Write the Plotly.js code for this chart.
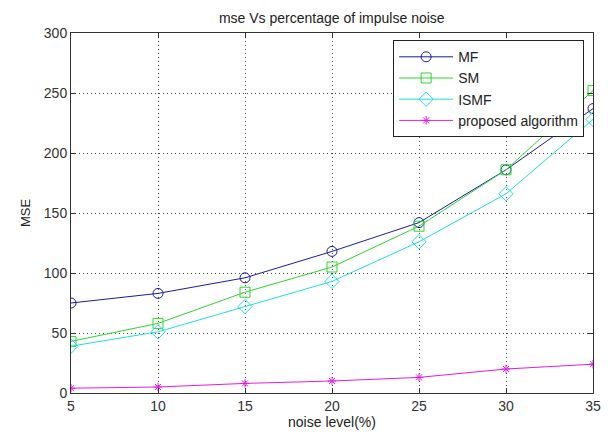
<!DOCTYPE html>
<html>
<head>
<meta charset="utf-8">
<script src="https://cdn.plot.ly/plotly-3.0.1.min.js"></script>
<style>html,body{margin:0;padding:0;background:#fff;}#chart{width:611px;height:432px;}</style>
</head>
<body>
<div id="chart"></div>
<script>
var noiseLevels = [5, 10, 15, 20, 25, 30, 35];
var mfValues = [75, 83, 96, 118, 142, 186, 237];
var smValues = [43, 58, 84, 105, 139, 186, 252];
var ismfValues = [39, 51, 72, 93, 126, 166, 228];
var proposedValues = [4, 5, 8, 10, 13, 20, 24];
var seriesNames = ['MF', 'SM', 'ISMF', 'proposed algorithm'];
var xTicks = [5, 10, 15, 20, 25, 30, 35];
var yTicks = [0, 50, 100, 150, 200, 250, 300];

var FONT = 'Liberation Sans, Arial, sans-serif';
function series(name, y, color, symbol, size) {
  return {
    x: noiseLevels, y: y, name: name, type: 'scatter', mode: 'lines+markers',
    line: {color: color, width: 1},
    marker: {symbol: symbol, size: size, color: color, line: {color: color, width: 1}}
  };
}
var data = [
  series(seriesNames[0], mfValues, '#1a1aa6', 'circle-open', 10),
  series(seriesNames[1], smValues, '#2ed62e', 'square-open', 10),
  series(seriesNames[2], ismfValues, '#22dede', 'diamond-open', 11),
  series(seriesNames[3], proposedValues, '#e619e6', 'asterisk-open', 7)
];
var axisCommon = {
  showline: true, linecolor: '#333', linewidth: 1, mirror: 'ticks',
  ticks: 'inside', ticklen: 5, tickcolor: '#333',
  showgrid: true, gridcolor: '#444', griddash: '1px,3px', gridwidth: 1,
  zeroline: false, tickfont: {family: FONT, size: 14, color: '#333'}
};
var layout = {
  width: 611, height: 432,
  margin: {l: 71, r: 18, t: 33, b: 39},
  paper_bgcolor: '#fff', plot_bgcolor: '#fff',
  showlegend: true,
  title: {text: 'mse Vs percentage of impulse noise', x: 0.543, xanchor: 'center', y: 0.958, yanchor: 'middle',
          font: {family: FONT, size: 14, color: '#222'}},
  xaxis: Object.assign({}, axisCommon, {
    range: [5, 35], tickvals: xTicks, ticktext: xTicks.map(String),
    title: {text: 'noise level(%)', standoff: 1, font: {family: FONT, size: 14, color: '#222'}}
  }),
  yaxis: Object.assign({}, axisCommon, {
    range: [0, 300], tickvals: yTicks, ticktext: yTicks.map(String),
    title: {text: 'MSE', standoff: 10, font: {family: FONT, size: 13, color: '#222'}}
  }),
  legend: {
    x: 0.983, xanchor: 'right', y: 0.98, yanchor: 'top',
    bgcolor: '#fff', bordercolor: '#222', borderwidth: 1,
    font: {family: FONT, size: 14, color: '#222'},
    tracegroupgap: 0, itemwidth: 54
  }
};
Plotly.newPlot('chart', data, layout, {displayModeBar: false, staticPlot: true});
</script>
</body>
</html>
